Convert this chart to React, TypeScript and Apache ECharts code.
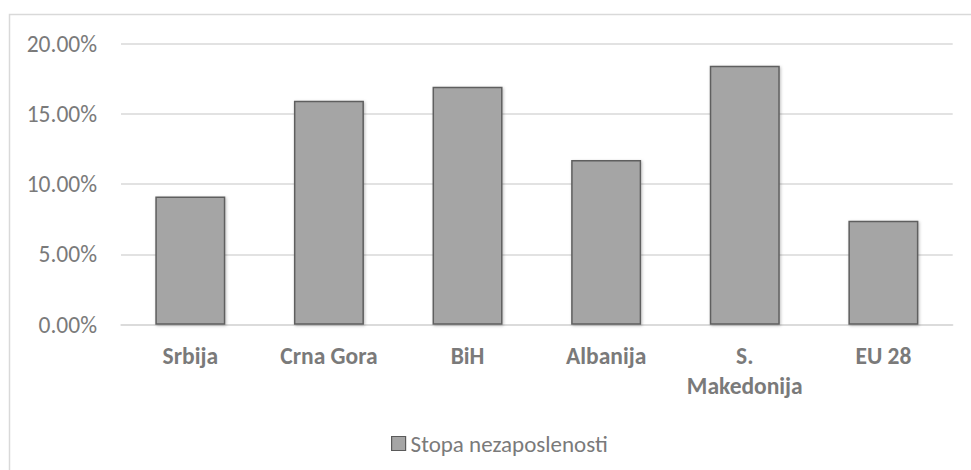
import React, { useEffect, useRef } from "react";
import * as echarts from "echarts";

const categories = ["Srbija", "Crna Gora", "BiH", "Albanija", "S.\nMakedonija", "EU 28"];
const values = [9.13, 15.94, 16.94, 11.72, 18.43, 7.4];
const seriesName = "Stopa nezaposlenosti";

const FONT = "Carlito, Calibri, Lato, sans-serif";

export default function App() {
  const ref = useRef<HTMLDivElement>(null);
  useEffect(() => {
    if (!ref.current) return;
    const chart = echarts.init(ref.current, null, { renderer: "svg" });
    chart.setOption({
      animation: false,
      backgroundColor: "#ffffff",
      graphic: [
        {
          type: "rect",
          shape: { x: 9.5, y: 14.5, width: 975, height: 470 },
          style: { fill: "none", stroke: "#d9d9d9", lineWidth: 1.5 },
          silent: true,
        },
      ],
      grid: { left: 121, right: 18.3, top: 43.7, bottom: 145.3, containLabel: false },
      legend: {
        left: 386,
        top: 427,
        itemWidth: 14,
        itemHeight: 14,
        icon: "rect",
        data: [seriesName],
        textStyle: { color: "#7a7a7a", fontSize: 23, fontFamily: FONT },
        itemStyle: { borderColor: "#5a5a5a", borderWidth: 1.2 },
      },
      xAxis: {
        type: "category",
        data: categories,
        axisLine: { show: true, lineStyle: { color: "#d9d9d9", width: 1.5 } },
        axisTick: { show: false },
        axisLabel: {
          color: "#7a7a7a",
          fontSize: 23.5,
          fontWeight: "bold",
          fontFamily: FONT,
          margin: 16,
          lineHeight: 30,
          interval: 0,
        },
      },
      yAxis: {
        type: "value",
        min: 0,
        max: 20,
        interval: 5,
        axisLine: { show: false },
        axisTick: { show: false },
        splitLine: { lineStyle: { color: "#d9d9d9", width: 1.5 } },
        axisLabel: {
          color: "#7a7a7a",
          fontSize: 23.5,
          fontFamily: FONT,
          margin: 24,
          formatter: (v: number) => v.toFixed(2) + "%",
        },
      },
      series: [
        {
          name: seriesName,
          type: "bar",
          data: values,
          barWidth: "50.5%",
          itemStyle: {
            color: "#a5a5a5",
            borderColor: "#5f5f5f",
            borderWidth: 1.5,
            shadowBlur: 3,
            shadowColor: "rgba(0,0,0,0.25)",
            shadowOffsetX: 1,
            shadowOffsetY: 1,
          },
        },
      ],
    });
    return () => chart.dispose();
  }, []);
  return (
    <div
      ref={ref}
      style={{ position: "fixed", left: 0, top: 0, width: 971, height: 470 }}
    />
  );
}
